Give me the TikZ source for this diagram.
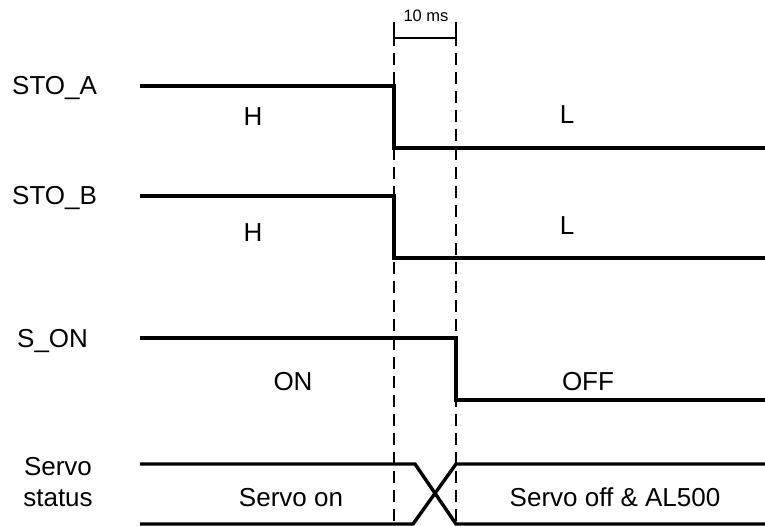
\documentclass[tikz,border=0pt]{standalone}
\usepackage{fontspec}
\setmainfont{Liberation Sans}
\begin{document}
\begin{tikzpicture}[x=1pt,y=-1pt,
  lbl/.style={inner sep=0pt, font=\fontsize{26}{28}\selectfont, anchor=base},
  lblw/.style={lbl, anchor=base west},
  small/.style={inner sep=0pt, font=\fontsize{16.5}{18}\selectfont, anchor=base},
  wave/.style={line width=3.4pt, line join=miter},
  guide/.style={line width=1.3pt, dash pattern=on 12pt off 7pt},
  tick/.style={line width=1.3pt}]
\useasboundingbox (0,0) rectangle (765,526);
% guides
\coordinate (g1t) at (394,22); \coordinate (g1m) at (394,46); \coordinate (g1b) at (394,526);
\coordinate (g2t) at (456,22); \coordinate (g2m) at (456,46); \coordinate (g2b) at (456,526);
\draw[tick] (g1t) -- (g1m);
\draw[tick] (g2t) -- (g2m);
\draw[guide] (g1m) ++(0,7) -- (g1b);
\draw[guide] (g2m) ++(0,7) -- (g2b);
\coordinate (d1) at (394,38); \coordinate (d2) at (456,38);
\draw[tick] (d1) -- (d2);
\node[small] (ten) at (426,22) {10 ms};
% STO_A
\node[lblw] (sa) at (12,95) {STO\_A};
\coordinate (a0) at (140,86); \coordinate (a1) at (394,86);
\coordinate (a2) at (394,148); \coordinate (a3) at (765,148);
\draw[wave] (a0) -- (a1) -- (a2) -- (a3);
\node[lbl] (ha) at (253,126) {H};
\node[lbl] (la) at (567,124) {L};
% STO_B
\node[lblw] (sb) at (12,205) {STO\_B};
\coordinate (b0) at (140,196); \coordinate (b1) at (394,196);
\coordinate (b2) at (394,258); \coordinate (b3) at (765,258);
\draw[wave] (b0) -- (b1) -- (b2) -- (b3);
\node[lbl] (hb) at (253,242) {H};
\node[lbl] (lb) at (567,235) {L};
% S_ON
\node[lblw] (so) at (17,347) {S\_ON};
\coordinate (c0) at (140,338); \coordinate (c1) at (456,338);
\coordinate (c2) at (456,400); \coordinate (c3) at (765,400);
\draw[wave] (c0) -- (c1) -- (c2) -- (c3);
\node[lbl] (on) at (293,390) {ON};
\node[lbl] (off) at (588,390) {OFF};
% Servo status
\node[lbl] (sv) at (58,475) {Servo};
\node[lbl] (st) at (58,506) {status};
\coordinate (t0) at (140,464); \coordinate (t1) at (415,464);
\coordinate (t2) at (456,524); \coordinate (t3) at (765,524);
\coordinate (u0) at (140,524); \coordinate (u1) at (413,524);
\coordinate (u2) at (456,464); \coordinate (u3) at (765,464);
\draw[wave] (t0) -- (t1) -- (t2) -- (t3);
\draw[wave] (u0) -- (u1) -- (u2) -- (u3);
\node[lbl] (son) at (291,506) {Servo on};
\node[lbl] (soff) at (615,506) {Servo off \& AL500};
\end{tikzpicture}
\end{document}
